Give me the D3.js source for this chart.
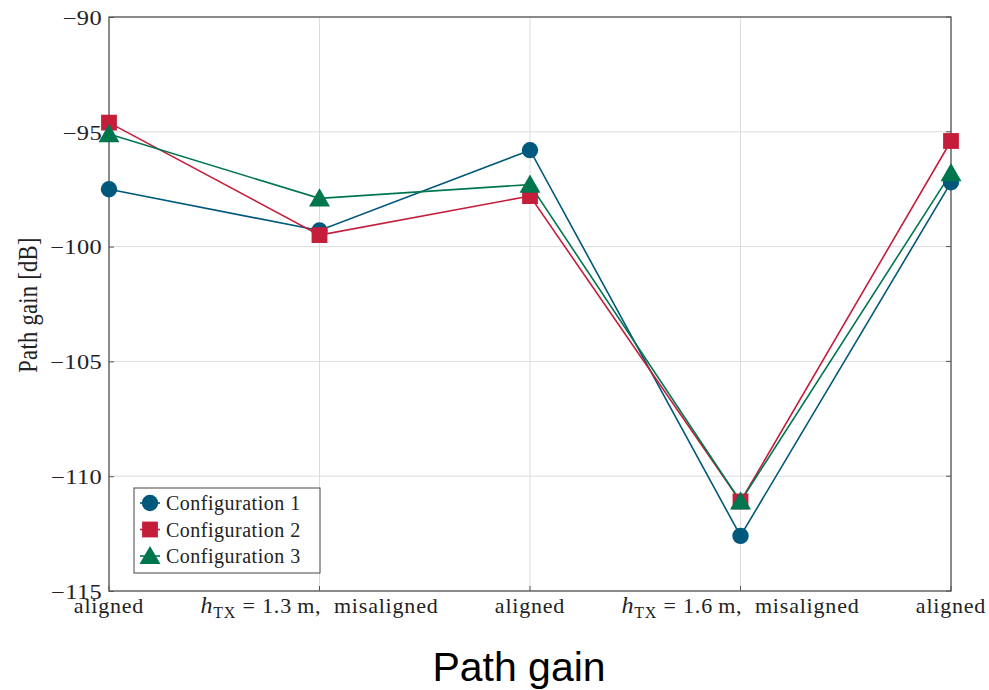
<!DOCTYPE html>
<html>
<head>
<meta charset="utf-8">
<script src="https://cdn.jsdelivr.net/npm/d3@7"></script>
<style>
  body { margin: 0; background: #fff; }
  .tick text { font-family: "Liberation Serif", "DejaVu Serif", serif; }
</style>
</head>
<body>
<div id="chart"></div>
<script>
// categories along x (pre = italic symbol, sub = subscript, text = rest)
var categories = [
  { pre: "", sub: "", text: "aligned" },
  { pre: "h", sub: "TX", text: " = 1.3\u2009m,  misaligned" },
  { pre: "", sub: "", text: "aligned" },
  { pre: "h", sub: "TX", text: " = 1.6\u2009m,  misaligned" },
  { pre: "", sub: "", text: "aligned" }
];
var yTicks = [-90, -95, -100, -105, -110, -115];

var config1 = [-97.5, -99.3, -95.8, -112.6, -97.2];
var config2 = [-94.6, -99.5, -97.8, -111.1, -95.4];
var config3 = [-95.1, -97.9, -97.3, -111.1, -96.8];

var seriesNames = ["Configuration 1", "Configuration 2", "Configuration 3"];
var seriesColors = ["#00587c", "#c41e3a", "#00764f"];
var seriesShapes = [d3.symbolCircle, d3.symbolSquare, d3.symbolTriangle];
var seriesSizes = [210, 250, 190];

var width = 989, height = 690;
var margin = {left: 109, right: 38, top: 17, bottom: 99};
var serif = "Liberation Serif, DejaVu Serif, serif";

var svg = d3.select("#chart")
  .append("svg")
  .attr("width", width)
  .attr("height", height);

var x = d3.scalePoint()
  .domain(d3.range(categories.length))
  .range([margin.left, width - margin.right]);

var y = d3.scaleLinear()
  .domain([-115, -90])
  .range([height - margin.bottom, margin.top]);

// grid
svg.append("g")
  .selectAll("line")
  .data(d3.range(categories.length))
  .enter().append("line")
    .attr("x1", function(d) { return x(d); })
    .attr("x2", function(d) { return x(d); })
    .attr("y1", y(-115))
    .attr("y2", y(-90))
    .attr("stroke", "#dcdcdc")
    .attr("stroke-width", 1);

svg.append("g")
  .selectAll("line")
  .data(yTicks)
  .enter().append("line")
    .attr("x1", x(0))
    .attr("x2", x(4))
    .attr("y1", function(d) { return y(d); })
    .attr("y2", function(d) { return y(d); })
    .attr("stroke", "#dcdcdc")
    .attr("stroke-width", 1);

// frame
svg.append("rect")
  .attr("x", x(0))
  .attr("y", y(-90))
  .attr("width", x(4) - x(0))
  .attr("height", y(-115) - y(-90))
  .attr("fill", "none")
  .attr("stroke", "#555")
  .attr("stroke-width", 1.3);

// y axis (labels stretched a little horizontally like the original)
var yAxis = svg.append("g")
  .attr("transform", "translate(" + x(0) + ",0)")
  .call(d3.axisRight(y).tickValues(yTicks).tickSize(5).tickFormat(function(d) { return "\u2212" + Math.abs(d); }));
yAxis.select(".domain").remove();
yAxis.selectAll(".tick line").attr("stroke", "#555");
yAxis.selectAll(".tick text")
  .attr("x", -7 / 1.22)
  .attr("dy", "0.36em")
  .attr("transform", "scale(1.22,1)")
  .attr("text-anchor", "end")
  .attr("font-size", 20)
  .attr("letter-spacing", 0.3)
  .attr("fill", "#222");

// right-side inner ticks
svg.append("g")
  .selectAll("line")
  .data(yTicks)
  .enter().append("line")
    .attr("x1", x(4) - 5)
    .attr("x2", x(4))
    .attr("y1", function(d) { return y(d); })
    .attr("y2", function(d) { return y(d); })
    .attr("stroke", "#555");

// bottom inner ticks
svg.append("g")
  .selectAll("line")
  .data(d3.range(categories.length))
  .enter().append("line")
    .attr("x1", function(d) { return x(d); })
    .attr("x2", function(d) { return x(d); })
    .attr("y1", y(-115))
    .attr("y2", y(-115) - 5)
    .attr("stroke", "#555");

// x labels
var xl = svg.append("g")
  .attr("font-family", serif)
  .attr("font-size", 22)
  .attr("letter-spacing", 0.8)
  .attr("fill", "#222")
  .attr("text-anchor", "middle")
  .selectAll("text")
  .data(categories)
  .enter().append("text")
    .attr("x", function(d, i) { return x(i); })
    .attr("y", y(-115) + 22)
    .attr("xml:space", "preserve");
xl.append("tspan")
  .attr("font-style", "italic")
  .attr("font-size", 24)
  .text(function(d) { return d.pre; });
xl.append("tspan")
  .attr("font-size", 16)
  .attr("dy", function(d) { return d.sub ? 5 : 0; })
  .text(function(d) { return d.sub; });
xl.append("tspan")
  .attr("dy", function(d) { return d.sub ? -5 : 0; })
  .text(function(d) { return d.text; });

// y label
svg.append("text")
  .attr("transform", "translate(37,305) rotate(-90) scale(1,1.2)")
  .attr("text-anchor", "middle")
  .attr("font-family", serif)
  .attr("font-size", 22.5)
  .attr("letter-spacing", 0.3)
  .attr("fill", "#222")
  .text("Path gain [dB]");

// series
var allSeries = [config1, config2, config3];
var line = d3.line()
  .x(function(d, i) { return x(i); })
  .y(function(d) { return y(d); });

allSeries.forEach(function(s, k) {
  svg.append("path")
    .datum(s)
    .attr("d", line)
    .attr("fill", "none")
    .attr("stroke", seriesColors[k])
    .attr("stroke-width", 1.6);
});
allSeries.forEach(function(s, k) {
  svg.append("g")
    .selectAll("path")
    .data(s)
    .enter().append("path")
      .attr("d", d3.symbol().type(seriesShapes[k]).size(seriesSizes[k]))
      .attr("transform", function(d, i) { return "translate(" + x(i) + "," + (y(d) + (k == 2 ? 2 : 0)) + ")"; })
      .attr("fill", seriesColors[k]);
});

// legend
var lg = svg.append("g").attr("transform", "translate(134,488)");
lg.append("rect")
  .attr("width", 186)
  .attr("height", 85)
  .attr("fill", "#fff")
  .attr("stroke", "#444")
  .attr("stroke-width", 1);
var items = lg.selectAll("g")
  .data(seriesNames)
  .enter().append("g")
    .attr("transform", function(d, i) { return "translate(0," + (15 + i * 26.5) + ")"; });
items.append("line")
  .attr("x1", 6).attr("x2", 26)
  .attr("stroke", function(d, i) { return seriesColors[i]; })
  .attr("stroke-width", 1.6);
items.append("path")
  .attr("d", function(d, i) { return d3.symbol().type(seriesShapes[i]).size(seriesSizes[i])(); })
  .attr("transform", function(d, i) { return "translate(16," + (i == 2 ? 2 : 0) + ")"; })
  .attr("fill", function(d, i) { return seriesColors[i]; });
items.append("text")
  .attr("x", 32)
  .attr("dy", "0.35em")
  .attr("font-family", serif)
  .attr("font-size", 20)
  .attr("letter-spacing", 0.5)
  .attr("fill", "#222")
  .text(function(d) { return d; });

// title
svg.append("text")
  .attr("x", 519)
  .attr("y", 681)
  .attr("text-anchor", "middle")
  .attr("font-family", "Liberation Sans, Arial, sans-serif")
  .attr("font-size", 41)
  .attr("fill", "#000")
  .text("Path gain");
</script>
</body>
</html>
